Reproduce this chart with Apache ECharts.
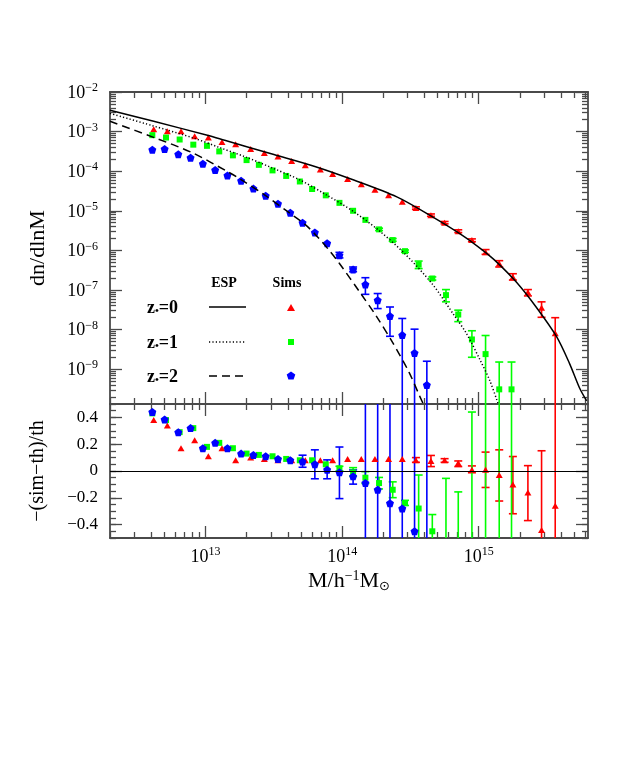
<!DOCTYPE html>
<html><head><meta charset="utf-8">
<script src="https://cdn.jsdelivr.net/npm/echarts@6/dist/echarts.min.js"></script>
<style>html,body{margin:0;padding:0;background:#fff}#c{width:632px;height:761px}</style>
</head><body><div id="c"></div>
<script>
// ---------- data (log10 values) ----------
const solidLogM  = [12.30,12.62,13.02,13.14,13.50,13.80,14.09,14.40,14.64,14.88,15.03,15.13,15.275,15.42,15.57,15.665,15.74,15.79];
const solidLogN  = [-2.46,-2.74,-3.10,-3.22,-3.58,-3.88,-4.23,-4.65,-5.11,-5.62,-6.00,-6.29,-6.80,-7.43,-8.18,-8.86,-9.49,-9.80];
const dottedLogM = [12.30,12.61,12.91,13.10,13.30,13.49,13.69,13.88,14.075,14.27,14.46,14.66,14.81,14.91,15.01,15.08,15.14,15.16];
const dottedLogN = [-2.54,-2.85,-3.16,-3.40,-3.65,-3.92,-4.22,-4.59,-5.00,-5.50,-6.09,-6.85,-7.59,-8.10,-8.77,-9.28,-9.85,-10.05];
const dashedLogM = [12.30,12.63,12.90,13.165,13.25,13.44,13.62,13.73,13.82,13.91,13.98,14.13,14.25,14.37,14.49,14.57,14.61];
const dashedLogN = [-2.74,-3.16,-3.53,-4.02,-4.19,-4.62,-5.07,-5.35,-5.66,-6.02,-6.33,-7.06,-7.66,-8.33,-9.08,-9.70,-10.0];

const redLogM = [12.62,12.72,12.82,12.92,13.02,13.12,13.22,13.33,13.43,13.53,13.63,13.73,13.84,13.93,14.04,14.14,14.24,14.34,14.44,14.54,14.65,14.75,14.85,14.95,15.05,15.15,15.25,15.36,15.46,15.56];
const redLogN = [-2.94,-2.99,-2.99,-3.12,-3.15,-3.26,-3.32,-3.44,-3.54,-3.63,-3.74,-3.85,-3.96,-4.07,-4.20,-4.33,-4.47,-4.61,-4.77,-4.93,-5.11,-5.30,-5.52,-5.74,-6.05,-6.33,-6.67,-7.06,-7.45,-8.09];
const redErrN = [null,null,null,null,null,null,null,null,null,null,null,null,null,null,null,null,null,null,null,
  [-4.96,-4.90],[-5.14,-5.08],[-5.33,-5.27],[-5.55,-5.48],[-5.78,-5.71],[-6.10,-5.98],[-6.42,-6.26],[-6.75,-6.59],[-7.15,-6.99],[-7.69,-7.30],[null,-7.70]];
const redRes = [0.38,0.34,0.17,0.23,0.11,0.17,0.08,0.10,0.09,0.08,0.08,0.08,0.08,0.08,0.09,0.09,0.09,0.09,0.09,0.08,0.075,0.08,0.06,0.01,0.01,-0.03,-0.10,-0.16,-0.44,-0.26];
const redErrRes = [null,null,null,null,null,null,null,null,null,null,null,null,null,null,null,null,null,null,null,
  [0.065,0.10],[0.033,0.116],[0.065,0.092],[0.033,0.075],[-0.013,0.038],[-0.123,0.141],[-0.224,0.158],[-0.319,0.108],[-0.370,0.040],[null,0.151],[null,null]];

const greenLogM = [12.61,12.71,12.81,12.91,13.01,13.10,13.20,13.30,13.39,13.49,13.59,13.69,13.78,13.88,13.98,14.08,14.17,14.27,14.37,14.46,14.56,14.66,14.76,14.85,14.95,15.05,15.15,15.24];
const greenLogN = [-3.09,-3.15,-3.20,-3.33,-3.36,-3.50,-3.60,-3.72,-3.84,-3.98,-4.12,-4.26,-4.45,-4.61,-4.80,-5.00,-5.23,-5.47,-5.74,-6.02,-6.36,-6.71,-7.13,-7.62,-8.25,-8.62,-9.51,-9.51];
const greenErrN = [null,null,null,null,null,null,null,null,null,null,null,null,null,null,null,null,null,
  [-5.50,-5.44],[-5.77,-5.70],[-6.05,-5.99],[-6.46,-6.27],[-6.75,-6.67],[-7.30,-6.99],[-7.80,-7.51],[-8.70,-8.03],[null,-8.15],[null,-8.82],[null,-8.82]];
const greenRes = [0.43,0.38,0.29,0.32,0.18,0.21,0.17,0.13,0.12,0.11,0.09,0.08,0.08,0.05,0.02,-0.01,-0.05,-0.09,-0.14,-0.24,-0.28,-0.45,null,null,null,null,null,null];
const greenErrRes = [null,null,null,null,null,null,null,null,null,null,null,null,null,null,
  [0.0,0.035],[-0.04,0.025],[-0.093,-0.005],[-0.134,-0.048],[-0.199,-0.081],[-0.257,-0.219],[null,-0.03],[null,-0.325],[null,-0.055],[null,-0.156],[null,0.44],[null,null],[null,null],[null,null]];

const blueLogM = [12.61,12.70,12.80,12.89,12.98,13.07,13.16,13.26,13.35,13.44,13.53,13.62,13.71,13.80,13.89,13.98,14.08,14.17,14.26,14.35,14.44,14.53,14.62];
const blueLogN = [-3.46,-3.44,-3.57,-3.66,-3.81,-3.97,-4.11,-4.24,-4.44,-4.62,-4.82,-5.05,-5.30,-5.55,-5.82,-6.12,-6.48,-6.86,-7.26,-7.66,-8.14,-8.59,-9.40];
const blueErrN = [null,null,null,null,null,null,null,null,null,null,null,null,null,null,null,
  [-6.19,-6.05],[-6.54,-6.42],[-7.11,-6.69],[-7.47,-7.09],[-8.17,-7.43],[null,-7.72],[null,-7.99],[null,-8.80]];
const blueRes = [0.44,0.385,0.29,0.32,0.17,0.21,0.17,0.13,0.12,0.11,0.09,0.08,0.07,0.05,0.01,-0.01,-0.04,-0.09,-0.14,-0.24,-0.28,-0.45,null];
const blueErrRes = [null,null,null,null,null,null,null,null,null,null,null,null,
  [0.028,0.118],[-0.058,0.158],[-0.058,0.083],[-0.206,0.179],[-0.098,0.008],[null,null],[null,null],[null,null],[null,null],[null,null],[null,null]];

const xMajorExp = [13,14,15];
const yTopMajorExp = [-9,-8,-7,-6,-5,-4,-3,-2];
const yBotMajor = [-0.4,-0.2,0,0.2,0.4];
const legendZ = ['0','1','2'];

// ---------- axis ranges ----------
const X_MIN = 12.3, X_MAX = 15.8;
const YT_MIN = -9.88, YT_MAX = -2;
const YB_MIN = -0.5, YB_MAX = 0.5;

function logMinor(a, b) {
  const out = [];
  for (let n = Math.floor(a) - 1; n <= Math.ceil(b); n++)
    for (let k = 2; k <= 9; k++) { const v = n + Math.log10(k); if (v > a && v < b) out.push(v); }
  return out;
}
const xMinor = logMinor(X_MIN, X_MAX);
const yTopMinor = logMinor(YT_MIN, YT_MAX);
const yBotMinor = []; for (let i = -10; i <= 10; i++) yBotMinor.push(+(i * 0.05).toFixed(2));

const FONT = '"Liberation Serif", "DejaVu Serif", serif';
const FRAME = '#4a4a4a';
const supNum = v => (v < 0 ? '\u2212' + (-v) : '' + v);
const richPow = {
  b: { fontSize: 18, fontFamily: FONT, color: '#000', lineHeight: 20, verticalAlign: 'bottom' },
  s: { fontSize: 12, fontFamily: FONT, color: '#000', lineHeight: 12, verticalAlign: 'top' }
};

function xAx(grid, pos, major, showLine, showLabel) {
  return {
    type: 'value', gridIndex: grid, position: pos, min: X_MIN, max: X_MAX,
    axisLine: { show: showLine, onZero: false, lineStyle: { color: FRAME, width: 1.8 } },
    axisTick: { show: true, inside: true, length: major ? 12 : 6, customValues: major ? xMajorExp : xMinor,
      lineStyle: { color: FRAME, width: 1.3 } },
    axisLabel: showLabel ? { show: true, customValues: xMajorExp, margin: 8,
      formatter: v => '{b|10}{s|' + supNum(v) + '}', rich: richPow } : { show: false },
    splitLine: { show: false }
  };
}
function yAx(grid, pos, min, max, ticks, len, showLine, label) {
  return {
    type: 'value', gridIndex: grid, position: pos, min: min, max: max,
    axisLine: { show: showLine, onZero: false, lineStyle: { color: FRAME, width: 1.8 } },
    axisTick: { show: true, inside: true, length: len, customValues: ticks, lineStyle: { color: FRAME, width: 1.3 } },
    axisLabel: label || { show: false },
    splitLine: { show: false }
  };
}

const xAxes = [
  xAx(0, 'bottom', true, true, false), xAx(0, 'bottom', false, false, false),
  xAx(0, 'top', true, true, false), xAx(0, 'top', false, false, false),
  xAx(1, 'bottom', true, true, true), xAx(1, 'bottom', false, false, false),
  xAx(1, 'top', true, true, false), xAx(1, 'top', false, false, false)
];
const yAxes = [
  yAx(0, 'left', YT_MIN, YT_MAX, yTopMajorExp, 12, true, { show: true, customValues: yTopMajorExp, margin: 12,
    formatter: v => '{b|10}{s|' + supNum(v) + '}', rich: richPow }),
  yAx(0, 'left', YT_MIN, YT_MAX, yTopMinor, 6, false),
  yAx(0, 'right', YT_MIN, YT_MAX, yTopMajorExp, 12, true),
  yAx(0, 'right', YT_MIN, YT_MAX, yTopMinor, 6, false),
  yAx(1, 'left', YB_MIN, YB_MAX, yBotMajor, 12, true, { show: true, customValues: yBotMajor, margin: 12,
    fontFamily: FONT, fontSize: 17, color: '#000', formatter: v => (v < 0 ? '\u2212' + (-v) : '' + v) }),
  yAx(1, 'left', YB_MIN, YB_MAX, yBotMinor, 6, false),
  yAx(1, 'right', YB_MIN, YB_MAX, yBotMajor, 12, true),
  yAx(1, 'right', YB_MIN, YB_MAX, yBotMinor, 6, false)
];

const zip = (a, b) => a.map((v, i) => [v, b[i]]);

function lineSeries(xs, ys, type, name) {
  return { type: 'line', name: name, xAxisIndex: 0, yAxisIndex: 0, data: zip(xs, ys), showSymbol: false,
    smooth: 0.3, clip: true, silent: true, lineStyle: { color: '#000', width: 1.5, type: type } };
}

function errSeries(xs, errs, color, xi, yi, yMin, yMax) {
  const data = [];
  xs.forEach((x, i) => {
    const e = errs[i]; if (!e) return;
    data.push([x, e[0] == null ? yMin : e[0], e[1] == null ? yMax : e[1], e[0] == null ? 1 : 0, e[1] == null ? 1 : 0]);
  });
  return {
    type: 'custom', xAxisIndex: xi, yAxisIndex: yi, silent: true, data: data,
    encode: { x: 0, y: [1, 2] },
    renderItem: (params, api) => {
      const x = api.value(0), lo = api.value(1), hi = api.value(2);
      const loOpen = api.value(3), hiOpen = api.value(4);
      const cs = params.coordSys;
      const top = cs.y, bot = cs.y + cs.height;
      const pLo = api.coord([x, lo]), pHi = api.coord([x, hi]);
      const cl = y => Math.max(top, Math.min(bot, y));
      const px = pLo[0];
      const st = { stroke: color, lineWidth: 1.6 };
      const ch = [{ type: 'line', shape: { x1: px, y1: cl(pLo[1]), x2: px, y2: cl(pHi[1]) }, style: st }];
      if (!loOpen && pLo[1] >= top && pLo[1] <= bot) ch.push({ type: 'line', shape: { x1: px - 4, y1: pLo[1], x2: px + 4, y2: pLo[1] }, style: st });
      if (!hiOpen && pHi[1] >= top && pHi[1] <= bot) ch.push({ type: 'line', shape: { x1: px - 4, y1: pHi[1], x2: px + 4, y2: pHi[1] }, style: st });
      return { type: 'group', children: ch };
    }
  };
}

const PENT = 'path://M0,-10L9.51,-3.09L5.88,8.09L-5.88,8.09L-9.51,-3.09Z';
function scat(xs, ys, color, symbol, size, xi, yi) {
  return { type: 'scatter', xAxisIndex: xi, yAxisIndex: yi, data: zip(xs, ys), symbol: symbol, symbolSize: size,
    clip: true, silent: true, itemStyle: { color: color, opacity: 1 } };
}

const RED = '#ff0000', GREEN = '#00ff00', BLUE = '#0000ff';

const series = [
  lineSeries(solidLogM, solidLogN, 'solid', 'z0'),
  lineSeries(dottedLogM, dottedLogN, [1.2, 2.2], 'z1'),
  lineSeries(dashedLogM, dashedLogN, [8, 5], 'z2'),
  errSeries(redLogM, redErrN, RED, 0, 0, YT_MIN, YT_MAX),
  scat(redLogM, redLogN, RED, 'triangle', [7, 6], 0, 0),
  errSeries(greenLogM, greenErrN, GREEN, 0, 0, YT_MIN, YT_MAX),
  scat(greenLogM, greenLogN, GREEN, 'rect', 6, 0, 0),
  errSeries(blueLogM, blueErrN, BLUE, 0, 0, YT_MIN, YT_MAX),
  scat(blueLogM, blueLogN, BLUE, PENT, 8, 0, 0),
  // residual panel
  { type: 'line', xAxisIndex: 4, yAxisIndex: 4, data: [], silent: true,
    markLine: { silent: true, symbol: ['none', 'none'], label: { show: false },
      lineStyle: { color: '#000', width: 1, type: 'solid' }, data: [{ yAxis: 0 }] } },
  errSeries(redLogM, redErrRes, RED, 4, 4, YB_MIN, YB_MAX),
  scat(redLogM, redRes, RED, 'triangle', [7, 6], 4, 4),
  errSeries(greenLogM, greenErrRes, GREEN, 4, 4, YB_MIN, YB_MAX),
  scat(greenLogM, greenRes, GREEN, 'rect', 6, 4, 4),
  errSeries(blueLogM, blueErrRes, BLUE, 4, 4, YB_MIN, YB_MAX),
  scat(blueLogM, blueRes, BLUE, PENT, 8, 4, 4)
];

// ---------- legend & titles as graphic text ----------
const legendY = [307, 342, 376];
const legendDash = [null, [1.2, 2.2], [8, 5]];
const graphics = [
  { type: 'text', x: 38, y: 248, rotation: Math.PI / 2, style: { text: 'dn/dlnM', font: '22px ' + FONT, fill: '#000', textAlign: 'center', textVerticalAlign: 'middle' } },
  { type: 'text', x: 38, y: 471, rotation: Math.PI / 2, style: { text: '\u2212(sim\u2212th)/th', font: '20px ' + FONT, fill: '#000', textAlign: 'center', textVerticalAlign: 'middle' } },
  { type: 'text', x: 349, y: 581, style: { text: '{t|M/h}{p|\u22121}{t|M}{u|\u2299}', textAlign: 'center', textVerticalAlign: 'middle',
      rich: { t: { font: '22px ' + FONT, fill: '#000', lineHeight: 24, verticalAlign: 'middle' },
              p: { font: '14px ' + FONT, fill: '#000', lineHeight: 14, verticalAlign: 'top' },
              u: { font: '13px "DejaVu Sans"', fill: '#000', lineHeight: 13, verticalAlign: 'bottom' } } } },
  { type: 'text', x: 224, y: 283, style: { text: 'ESP', font: 'bold 14px ' + FONT, fill: '#000', textAlign: 'center', textVerticalAlign: 'middle' } },
  { type: 'text', x: 287, y: 283, style: { text: 'Sims', font: 'bold 14px ' + FONT, fill: '#000', textAlign: 'center', textVerticalAlign: 'middle' } }
];
legendZ.forEach((z, i) => {
  const y = legendY[i];
  graphics.push({ type: 'text', x: 147, y: y, style: { text: '{a|z}{d|\u2022}{a|=' + z + '}', textVerticalAlign: 'middle',
    rich: { a: { font: 'bold 18px ' + FONT, fill: '#000', lineHeight: 20, verticalAlign: 'bottom' },
            d: { font: 'bold 11px ' + FONT, fill: '#000', lineHeight: 11, verticalAlign: 'bottom' } } } });
  graphics.push({ type: 'line', shape: { x1: 209, y1: y, x2: 246, y2: y },
    style: { stroke: '#000', lineWidth: 1.5, lineDash: legendDash[i] } });
});
graphics.push({ type: 'polygon', shape: { points: [[291, 304], [295, 311], [287, 311]] }, style: { fill: RED } });
graphics.push({ type: 'rect', shape: { x: 288, y: 339, width: 6, height: 6 }, style: { fill: GREEN } });
graphics.push({ type: 'polygon', shape: { points: [[291, 371.5], [295.3, 374.6], [293.6, 379.6], [288.4, 379.6], [286.7, 374.6]] }, style: { fill: BLUE } });

const chart = echarts.init(document.getElementById('c'), null, { renderer: 'canvas' });
chart.setOption({
  animation: false,
  backgroundColor: '#fff',
  grid: [
    { left: 110, top: 92, width: 478, height: 312, containLabel: false },
    { left: 110, top: 404, width: 478, height: 134, containLabel: false }
  ],
  xAxis: xAxes,
  yAxis: yAxes,
  series: series,
  graphic: graphics
});
</script></body></html>
